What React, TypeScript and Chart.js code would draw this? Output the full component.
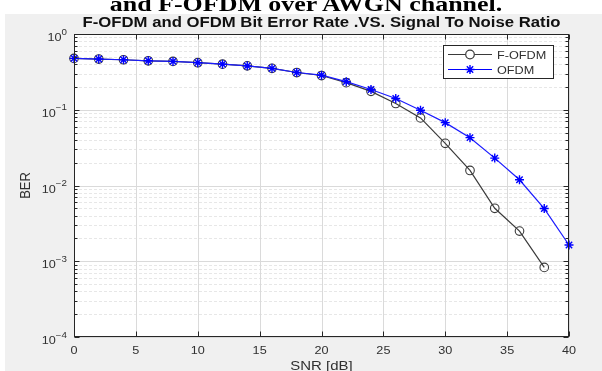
import React, { useEffect, useRef } from "react";
import { Chart, registerables } from "chart.js";
Chart.register(...registerables);

const snr = [0, 2, 4, 6, 8, 10, 12, 14, 16, 18, 20, 22, 24, 26, 28, 30, 32, 34, 36, 38, 40];
const berFOFDM = [0.476, 0.467, 0.457, 0.443, 0.435, 0.418, 0.4, 0.38, 0.352, 0.31, 0.283, 0.228, 0.175, 0.121, 0.078, 0.036, 0.0158, 0.005, 0.0025, 0.00083];
const berOFDM = [0.476, 0.467, 0.457, 0.443, 0.435, 0.418, 0.4, 0.38, 0.352, 0.31, 0.286, 0.235, 0.185, 0.141, 0.0985, 0.0676, 0.0428, 0.023, 0.0119, 0.00496, 0.00164];
const xTicks = [0, 5, 10, 15, 20, 25, 30, 35, 40];
const yTickExps = [0, -1, -2, -3, -4];
const seriesNames = ["F-OFDM", "OFDM"];
const titleText = "F-OFDM and OFDM Bit Error Rate .VS. Signal To Noise Ratio";
const xLabel = "SNR [dB]";
const yLabel = "BER";
const headingText = "and F-OFDM over AWGN channel.";

const SX = 1.15;
const AX = "#262626";
const TXT = "#303030";
const FONT = '"Liberation Sans", Arial, sans-serif';
const C_F = "#3a3a3a";
const C_O = "#0000ff";

function txt(ctx: CanvasRenderingContext2D, s: string, x: number, y: number, font: string, align: string, sx = SX, color = TXT) {
  ctx.save();
  ctx.font = font;
  ctx.fillStyle = color;
  ctx.textBaseline = "alphabetic";
  ctx.textAlign = "left";
  const w = ctx.measureText(s).width * sx;
  const left = align === "center" ? x - w / 2 : align === "right" ? x - w : x;
  ctx.translate(left, y);
  ctx.scale(sx, 1);
  ctx.fillText(s, 0, 0);
  ctx.restore();
  return w;
}

function drawStar(ctx: CanvasRenderingContext2D, x: number, y: number, r: number) {
  const d = r * Math.SQRT1_2;
  ctx.beginPath();
  ctx.moveTo(x - r, y); ctx.lineTo(x + r, y);
  ctx.moveTo(x, y - r); ctx.lineTo(x, y + r);
  ctx.moveTo(x - d, y - d); ctx.lineTo(x + d, y + d);
  ctx.moveTo(x - d, y + d); ctx.lineTo(x + d, y - d);
  ctx.stroke();
}

const matlabPlugin = {
  id: "matlab",
  beforeDraw(chart: any) {
    const { ctx, chartArea: a, scales } = chart;
    const x = scales.x, y = scales.y;
    ctx.save();
    ctx.fillStyle = "#ffffff";
    ctx.fillRect(0, 0, chart.width, chart.height);
    ctx.fillStyle = "#f0f0f0";
    ctx.fillRect(5, 14, chart.width - 5, chart.height - 14);
    ctx.fillStyle = "#ffffff";
    ctx.fillRect(a.left, a.top, a.right - a.left, a.bottom - a.top);
    ctx.lineWidth = 1;
    // minor grid
    ctx.setLineDash([3, 2]);
    ctx.strokeStyle = "#e7e7e7";
    for (let e = -4; e < 0; e++) {
      for (let m = 2; m <= 9; m++) {
        const py = Math.round(y.getPixelForValue(m * Math.pow(10, e))) + 0.5;
        ctx.beginPath(); ctx.moveTo(a.left, py); ctx.lineTo(a.right, py); ctx.stroke();
      }
    }
    ctx.setLineDash([]);
    ctx.strokeStyle = "#dadada";
    for (const e of yTickExps) {
      const py = Math.round(y.getPixelForValue(Math.pow(10, e))) + 0.5;
      ctx.beginPath(); ctx.moveTo(a.left, py); ctx.lineTo(a.right, py); ctx.stroke();
    }
    for (const t of xTicks) {
      const px = Math.round(x.getPixelForValue(t)) + 0.5;
      ctx.beginPath(); ctx.moveTo(px, a.top); ctx.lineTo(px, a.bottom); ctx.stroke();
    }
    ctx.restore();
  },
  afterDraw(chart: any) {
    const { ctx, chartArea: a, scales } = chart;
    const x = scales.x, y = scales.y;
    ctx.save();
    ctx.strokeStyle = AX;
    ctx.lineWidth = 1;
    const L = Math.round(a.left) + 0.5, R = Math.round(a.right) - 0.5;
    const T = Math.round(a.top) + 0.5, B = Math.round(a.bottom) - 0.5;
    ctx.strokeRect(L, T, R - L, B - T);
    // y ticks
    ctx.beginPath();
    for (let e = -4; e <= 0; e++) {
      const py = Math.round(y.getPixelForValue(Math.pow(10, e))) + 0.5;
      ctx.moveTo(L, py); ctx.lineTo(L + 5, py);
      ctx.moveTo(R, py); ctx.lineTo(R - 5, py);
      if (e < 0) {
        for (let m = 2; m <= 9; m++) {
          const pm = Math.round(y.getPixelForValue(m * Math.pow(10, e))) + 0.5;
          ctx.moveTo(L, pm); ctx.lineTo(L + 3, pm);
          ctx.moveTo(R, pm); ctx.lineTo(R - 3, pm);
        }
      }
    }
    for (const t of xTicks) {
      const px = Math.round(x.getPixelForValue(t)) + 0.5;
      ctx.moveTo(px, B); ctx.lineTo(px, B - 5);
      ctx.moveTo(px, T); ctx.lineTo(px, T + 5);
    }
    ctx.stroke();
    // x tick labels
    for (const t of xTicks) {
      const px = x.getPixelForValue(t);
      txt(ctx, String(t), px, a.bottom + 17, `11px ${FONT}`, "center");
    }
    // y tick labels
    for (const e of yTickExps) {
      const py = y.getPixelForValue(Math.pow(10, e));
      const expStr = e === 0 ? "0" : "\u2212" + String(-e);
      const ew = txt(ctx, expStr, a.left - 7, py + 0.5, `8.5px ${FONT}`, "right");
      txt(ctx, "10", a.left - 7 - ew, py + 7, `11px ${FONT}`, "right");
    }
    // axis labels
    txt(ctx, xLabel, (a.left + a.right) / 2, a.bottom + 33, `13px ${FONT}`, "center");
    ctx.save();
    ctx.font = `13px ${FONT}`;
    ctx.fillStyle = TXT;
    ctx.textAlign = "center";
    ctx.textBaseline = "alphabetic";
    ctx.translate(30, (a.top + a.bottom) / 2);
    ctx.scale(SX, 1);
    ctx.rotate(-Math.PI / 2);
    ctx.fillText(yLabel, 0, 0);
    ctx.restore();
    // title
    ctx.save();
    ctx.font = `bold 14px ${FONT}`;
    const tw = ctx.measureText(titleText).width;
    ctx.restore();
    txt(ctx, titleText, (a.left + a.right) / 2, a.top - 7, `bold 14px ${FONT}`, "center", 478 / tw, "#111");
    // legend
    const lx = a.right - 126, ly = a.top + 11;
    ctx.fillStyle = "#fff";
    ctx.fillRect(lx, ly, 110, 33);
    ctx.strokeStyle = AX;
    ctx.lineWidth = 1;
    ctx.strokeRect(Math.round(lx) + 0.5, Math.round(ly) + 0.5, 110, 33);
    const rows = [ly + 9.5, ly + 24.5];
    // F-OFDM
    ctx.strokeStyle = C_F; ctx.lineWidth = 1.2;
    ctx.beginPath(); ctx.moveTo(lx + 5, rows[0]); ctx.lineTo(lx + 49, rows[0]); ctx.stroke();
    ctx.fillStyle = "#fff";
    ctx.beginPath(); ctx.arc(lx + 27, rows[0], 4.3, 0, Math.PI * 2); ctx.fill(); ctx.stroke();
    txt(ctx, seriesNames[0], lx + 54, rows[0] + 4, `11px ${FONT}`, "left");
    // OFDM
    ctx.strokeStyle = C_O; ctx.lineWidth = 1.2;
    ctx.beginPath(); ctx.moveTo(lx + 5, rows[1]); ctx.lineTo(lx + 49, rows[1]); ctx.stroke();
    ctx.lineWidth = 1.4;
    drawStar(ctx, lx + 27, rows[1], 4.5);
    txt(ctx, seriesNames[1], lx + 54, rows[1] + 4, `11px ${FONT}`, "left");
    ctx.restore();
  },
};

export default function App() {
  const ref = useRef<HTMLCanvasElement>(null);
  useEffect(() => {
    const chart = new Chart(ref.current as HTMLCanvasElement, {
      type: "line",
      data: {
        datasets: [
          {
            label: seriesNames[0],
            data: berFOFDM.map((v, i) => ({ x: snr[i], y: v })),
            borderColor: C_F,
            borderWidth: 1.2,
            pointStyle: "circle",
            pointRadius: 4.3,
            pointBorderColor: C_F,
            pointBackgroundColor: "rgba(0,0,0,0)",
            pointBorderWidth: 1.1,
            tension: 0,
            clip: false,
            order: 1,
          } as any,
          {
            label: seriesNames[1],
            data: berOFDM.map((v, i) => ({ x: snr[i], y: v })),
            borderColor: "#1a1aff",
            borderWidth: 1.2,
            pointStyle: "star",
            pointRadius: 4.5,
            pointBorderColor: C_O,
            pointBackgroundColor: C_O,
            pointBorderWidth: 1.4,
            tension: 0,
            clip: false,
            order: 0,
          } as any,
        ],
      },
      options: {
        responsive: false,
        animation: false,
        devicePixelRatio: 1,
        events: [],
        layout: { padding: { left: 0, top: 34, right: 33, bottom: 0 } },
        plugins: { legend: { display: false }, tooltip: { enabled: false }, title: { display: false } },
        scales: {
          x: {
            type: "linear", min: 0, max: 40,
            grid: { display: false }, border: { display: false }, ticks: { display: false },
            afterFit(s: any) { s.height = 34; },
          },
          y: {
            type: "logarithmic", min: 1e-4, max: 1,
            grid: { display: false }, border: { display: false }, ticks: { display: false },
            afterFit(s: any) { s.width = 74; },
          },
        },
      } as any,
      plugins: [matlabPlugin],
    });
    return () => chart.destroy();
  }, []);
  return (
    <div style={{ position: "absolute", left: 0, top: 0, width: 602, height: 371, overflow: "hidden", background: "#fff" }}>
      <canvas ref={ref} width={602} height={371} style={{ position: "absolute", left: 0, top: 0, width: 602, height: 371 }} />
      <div style={{ position: "absolute", left: 0, top: 0, width: 602, height: 14, overflow: "hidden" }}>
        <div
          style={{
            position: "absolute", left: 0, top: -7.4, width: 612, textAlign: "center",
            font: 'bold 22px "Liberation Serif", serif', lineHeight: "22px", whiteSpace: "nowrap",
            transform: "scaleX(1.18)", transformOrigin: "50% 0", color: "#000",
          }}
        >
          {headingText}
        </div>
      </div>
    </div>
  );
}
